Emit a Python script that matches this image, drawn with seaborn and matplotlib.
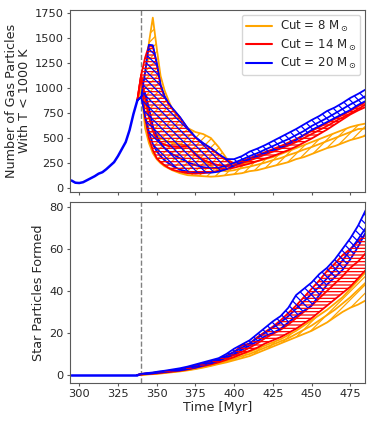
import matplotlib
matplotlib.use('Agg')
import matplotlib.pyplot as plt
import seaborn as sns
import pandas as pd
from matplotlib.lines import Line2D

# shared history before the cut
t_pre = [295, 297.5, 300, 302.5, 305, 307.5, 310, 312.5, 315, 317.5, 320, 322.5,
         325, 327.5, 330, 332.5, 335, 337.5]
gas_pre = [77, 55, 52, 60, 80, 100, 120, 145, 160, 190, 225, 260, 320, 390, 460,
           580, 740, 875]
stars_pre = [0, 0, 0, 0, 0, 0, 0, 0, 0, 0, 0, 0, 0, 0, 0, 0, 0, 0]

# times after the cut
t_post = [337.5, 340, 342.5, 345, 347.5, 350, 352.5, 355, 357.5, 360, 365, 370, 375,
          380, 385, 390, 395, 400, 405, 410, 415, 420, 425, 430, 435, 440, 445, 450,
          455, 460, 465, 470, 475, 480, 485]

cuts = ['Cut = 8 M$_\\odot$', 'Cut = 14 M$_\\odot$', 'Cut = 20 M$_\\odot$']
colors = ['orange', 'red', 'blue']
hatches = ['////', '-----', '\\\\\\\\']

# gas particles with T < 1000 K, three runs per cut (lo, mid, hi)
gas_8_lo = [875, 1000, 600, 450, 350, 290, 250, 220, 200, 180, 150, 130, 125, 120, 115,
            120, 130, 140, 150, 170, 180, 200, 220, 240, 260, 290, 310, 340, 370, 400,
            420, 450, 480, 500, 525]
gas_8_mid = [875, 1000, 850, 700, 600, 540, 500, 480, 465, 450, 440, 420, 350, 280, 220,
             180, 170, 180, 200, 215, 235, 255, 280, 300, 330, 355, 385, 410, 440, 470,
             500, 530, 560, 590, 595]
gas_8_hi = [875, 1000, 1150, 1450, 1700, 1400, 1120, 980, 880, 790, 680, 600, 560, 540,
            500, 410, 300, 240, 245, 255, 270, 290, 310, 340, 370, 400, 430, 460, 490,
            520, 550, 580, 610, 630, 645]

gas_14_lo = [875, 1130, 700, 500, 380, 300, 260, 230, 205, 185, 165, 150, 145, 150, 160,
             175, 190, 205, 225, 245, 270, 295, 320, 350, 380, 415, 455, 495, 540, 585,
             635, 685, 735, 775, 810]
gas_14_mid = [875, 1130, 910, 720, 570, 490, 455, 435, 420, 415, 410, 420, 330, 285, 250,
              230, 220, 225, 250, 275, 305, 335, 365, 395, 425, 460, 500, 540, 580, 620,
              665, 705, 745, 790, 835]
gas_14_hi = [875, 1130, 1300, 1420, 1415, 1245, 1025, 915, 845, 795, 705, 595, 505, 445,
             395, 335, 280, 250, 270, 300, 330, 360, 390, 420, 455, 490, 530, 570, 610,
             650, 690, 730, 770, 815, 860]

gas_20_lo = [875, 910, 720, 560, 440, 370, 320, 280, 250, 225, 185, 165, 160, 160, 155,
             165, 190, 225, 260, 290, 320, 350, 380, 405, 440, 480, 530, 580, 620, 660,
             700, 740, 780, 830, 870]
gas_20_mid = [875, 910, 950, 800, 620, 520, 450, 400, 370, 340, 300, 260, 230, 210, 200,
              205, 225, 255, 285, 320, 350, 385, 420, 455, 490, 530, 570, 620, 660, 700,
              745, 790, 835, 875, 920]
gas_20_hi = [875, 910, 1150, 1430, 1425, 1250, 1030, 920, 850, 800, 710, 600, 510, 450,
             400, 340, 290, 290, 320, 365, 395, 430, 470, 510, 550, 590, 635, 680, 720,
             770, 805, 850, 900, 940, 985]

# star particles formed
stars_8_lo = [0, 0.1, 0.2, 0.3, 0.4, 0.5, 0.7, 0.9, 1.1, 1.3, 1.7, 2.2, 2.8, 3.5, 4.3,
              5.2, 6.0, 7.0, 8.0, 9.0, 10.5, 12.0, 13.5, 15.0, 16.5, 18.0, 19.5, 21.0,
              23.0, 25.0, 27.5, 30.0, 32.0, 33.5, 35.5]
stars_8_mid = [0, 0.1, 0.2, 0.4, 0.5, 0.7, 0.9, 1.1, 1.3, 1.5, 1.9, 2.4, 3.0, 3.8, 4.6,
               5.5, 6.5, 7.7, 9.0, 10.0, 11.5, 13.0, 14.5, 16.0, 17.5, 19.5, 21.5, 23.5,
               26.0, 28.5, 31.0, 34.0, 37.0, 40.5, 44.0]
stars_8_hi = [0, 0.2, 0.3, 0.5, 0.6, 0.8, 1.0, 1.2, 1.4, 1.6, 2.0, 2.6, 3.3, 4.2, 5.0,
              6.0, 7.2, 8.5, 10.0, 11.0, 12.5, 14.0, 15.5, 17.0, 19.0, 21.0, 23.5, 26.0,
              28.5, 31.0, 34.0, 37.0, 41.0, 45.0, 49.0]

stars_14_lo = [0, 0.2, 0.4, 0.5, 0.6, 0.8, 1.0, 1.2, 1.4, 1.6, 2.0, 2.6, 3.4, 4.2, 5.0,
               6.0, 7.2, 8.5, 10.0, 11.5, 13.0, 15.0, 16.5, 18.0, 20.0, 22.0, 24.5, 27.0,
               30.0, 33.0, 36.0, 39.0, 42.0, 46.0, 50.0]
stars_14_mid = [0, 0.3, 0.5, 0.7, 0.8, 1.0, 1.2, 1.4, 1.6, 1.8, 2.3, 3.0, 3.8, 4.8, 5.8,
                6.8, 8.0, 9.5, 11.0, 13.0, 15.0, 17.5, 19.5, 21.5, 24.0, 27.0, 30.0, 33.0,
                36.5, 40.0, 43.5, 47.0, 51.0, 54.0, 58.0]
stars_14_hi = [0, 0.5, 0.7, 0.9, 1.0, 1.2, 1.4, 1.6, 1.8, 2.0, 2.6, 3.4, 4.4, 5.4, 6.4,
               7.5, 9.0, 11.0, 14.0, 15.0, 18.0, 20.5, 23.0, 26.0, 29.5, 33.0, 37.0, 41.0,
               45.0, 49.5, 53.0, 57.0, 60.0, 63.5, 67.0]

stars_20_lo = [0, 0.3, 0.5, 0.6, 0.8, 1.0, 1.2, 1.4, 1.6, 1.8, 2.2, 2.8, 3.5, 4.5, 5.5,
               6.8, 8.3, 10.0, 12.0, 14.0, 16.0, 18.5, 20.0, 22.0, 25.0, 28.0, 30.5, 33.0,
               38.0, 43.0, 46.5, 50.0, 55.0, 61.0, 68.0]
stars_20_mid = [0, 0.4, 0.6, 0.8, 1.0, 1.2, 1.4, 1.7, 2.0, 2.2, 2.7, 3.4, 4.2, 5.2, 6.2,
                7.4, 9.0, 11.0, 13.0, 15.0, 17.5, 20.0, 22.5, 25.0, 28.0, 31.5, 35.0, 38.5,
                42.0, 46.0, 50.0, 54.5, 59.5, 64.5, 70.0]
stars_20_hi = [0, 0.5, 0.8, 1.0, 1.2, 1.5, 1.8, 2.0, 2.3, 2.6, 3.2, 4.0, 5.0, 6.0, 7.0,
               8.0, 10.0, 12.5, 14.5, 16.5, 19.5, 22.5, 25.5, 28.0, 32.0, 38.0, 41.0, 44.0,
               48.0, 51.0, 55.0, 60.0, 65.0, 71.0, 78.5]

gas_runs = [[gas_8_lo, gas_8_mid, gas_8_hi],
            [gas_14_lo, gas_14_mid, gas_14_hi],
            [gas_20_lo, gas_20_mid, gas_20_hi]]
star_runs = [[stars_8_lo, stars_8_mid, stars_8_hi],
             [stars_14_lo, stars_14_mid, stars_14_hi],
             [stars_20_lo, stars_20_mid, stars_20_hi]]


def long_form(runs):
    rows = []
    for cut, group in zip(cuts, runs):
        for k, run in enumerate(group):
            for t, v in zip(t_post, run):
                rows.append({'time': t, 'value': v, 'cut': cut, 'run': k})
    return pd.DataFrame(rows)


sns.set_style('ticks')
plt.rcParams['font.family'] = ['DejaVu Sans']
plt.rcParams['axes.edgecolor'] = '0.35'
plt.rcParams['hatch.linewidth'] = 0.9

fig, (ax1, ax2) = plt.subplots(2, 1, figsize=(3.74, 4.22), dpi=100, sharex=True)
fig.subplots_adjust(left=0.187, right=0.976, top=0.976, bottom=0.092, hspace=0.054)

for ax, runs, pre in [(ax1, gas_runs, gas_pre), (ax2, star_runs, stars_pre)]:
    df = long_form(runs)
    for i, (c, h) in enumerate(zip(colors, hatches)):
        lo = [min(a) for a in zip(*runs[i])]
        hi = [max(a) for a in zip(*runs[i])]
        ax.fill_between(t_post, lo, hi, facecolor='none', edgecolor=c, hatch=h,
                        linewidth=0, zorder=1 + 2 * i)
    sns.lineplot(data=df, x='time', y='value', hue='cut', units='run', estimator=None,
                 palette=colors, linewidth=1.3, legend=False, ax=ax)
    sns.lineplot(x=t_pre, y=pre, color='blue', linewidth=1.8, ax=ax)
    ax.axvline(340, color='gray', linestyle='--', linewidth=1.0, zorder=0)
    ax.tick_params(labelsize=8.2, length=2.5, width=0.8, pad=2, color='0.35')
    for s in ax.spines.values():
        s.set_linewidth(0.8)

ax1.set_xlim(294, 484.5)
ax1.set_ylim(-35, 1775)
ax1.set_yticks([0, 250, 500, 750, 1000, 1250, 1500, 1750])
ax2.set_ylim(-3.9, 82.5)
ax2.set_yticks([0, 20, 40, 60, 80])
ax2.set_xticks([300, 325, 350, 375, 400, 425, 450, 475])

ax1.set_ylabel('Number of Gas Particles\nWith T < 1000 K', fontsize=9.2,
               linespacing=1.0, labelpad=3)
ax1.set_xlabel('')
ax2.set_ylabel('Star Particles Formed', fontsize=9.2, labelpad=3)
ax2.set_xlabel('Time [Myr]', fontsize=9.2, labelpad=1)

handles = [Line2D([], [], color=c, linewidth=1.5) for c in colors]
ax1.legend(handles, cuts, loc='upper right', fontsize=8.5, handlelength=2.2,
           borderaxespad=0.4, labelspacing=0.3, borderpad=0.35, handletextpad=0.7)

fig.savefig('out.png', dpi=100)
